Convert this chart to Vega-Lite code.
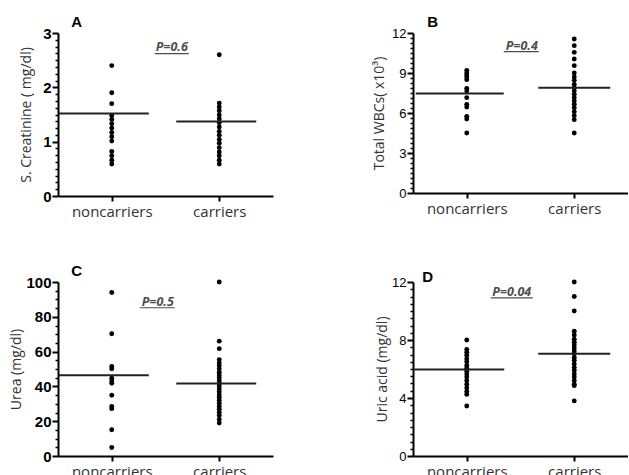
{
  "$schema": "https://vega.github.io/schema/vega-lite/v6.json",
  "background": "white",
  "padding": {"left": 9, "top": 15, "right": 0, "bottom": 0},
  "config": {"view": {"stroke": null}},
  "datasets": {
    "pts": [
      {"panel":"A","group":"noncarriers","value":2.4},{"panel":"A","group":"noncarriers","value":1.9},{"panel":"A","group":"noncarriers","value":1.7},{"panel":"A","group":"noncarriers","value":1.48},{"panel":"A","group":"noncarriers","value":1.41},{"panel":"A","group":"noncarriers","value":1.33},{"panel":"A","group":"noncarriers","value":1.25},{"panel":"A","group":"noncarriers","value":1.17},{"panel":"A","group":"noncarriers","value":1.09},{"panel":"A","group":"noncarriers","value":1.01},{"panel":"A","group":"noncarriers","value":0.82},{"panel":"A","group":"noncarriers","value":0.74},{"panel":"A","group":"noncarriers","value":0.66},{"panel":"A","group":"noncarriers","value":0.59},
      {"panel":"A","group":"carriers","value":2.6},{"panel":"A","group":"carriers","value":1.71},{"panel":"A","group":"carriers","value":1.64},{"panel":"A","group":"carriers","value":1.57},{"panel":"A","group":"carriers","value":1.49},{"panel":"A","group":"carriers","value":1.42},{"panel":"A","group":"carriers","value":1.35},{"panel":"A","group":"carriers","value":1.27},{"panel":"A","group":"carriers","value":1.19},{"panel":"A","group":"carriers","value":1.12},{"panel":"A","group":"carriers","value":1.04},{"panel":"A","group":"carriers","value":0.97},{"panel":"A","group":"carriers","value":0.89},{"panel":"A","group":"carriers","value":0.81},{"panel":"A","group":"carriers","value":0.74},{"panel":"A","group":"carriers","value":0.66},{"panel":"A","group":"carriers","value":0.59},
      {"panel":"B","group":"noncarriers","value":9.2},{"panel":"B","group":"noncarriers","value":9.0},{"panel":"B","group":"noncarriers","value":8.85},{"panel":"B","group":"noncarriers","value":8.7},{"panel":"B","group":"noncarriers","value":8.5},{"panel":"B","group":"noncarriers","value":7.85},{"panel":"B","group":"noncarriers","value":7.65},{"panel":"B","group":"noncarriers","value":7.15},{"panel":"B","group":"noncarriers","value":6.65},{"panel":"B","group":"noncarriers","value":6.45},{"panel":"B","group":"noncarriers","value":5.75},{"panel":"B","group":"noncarriers","value":5.55},{"panel":"B","group":"noncarriers","value":4.5},
      {"panel":"B","group":"carriers","value":11.55},{"panel":"B","group":"carriers","value":11.05},{"panel":"B","group":"carriers","value":10.55},{"panel":"B","group":"carriers","value":10.05},{"panel":"B","group":"carriers","value":9.55},{"panel":"B","group":"carriers","value":9.0},{"panel":"B","group":"carriers","value":8.7},{"panel":"B","group":"carriers","value":8.45},{"panel":"B","group":"carriers","value":8.15},{"panel":"B","group":"carriers","value":7.9},{"panel":"B","group":"carriers","value":7.65},{"panel":"B","group":"carriers","value":7.4},{"panel":"B","group":"carriers","value":7.15},{"panel":"B","group":"carriers","value":6.9},{"panel":"B","group":"carriers","value":6.65},{"panel":"B","group":"carriers","value":6.4},{"panel":"B","group":"carriers","value":6.1},{"panel":"B","group":"carriers","value":5.8},{"panel":"B","group":"carriers","value":5.5},{"panel":"B","group":"carriers","value":4.5},
      {"panel":"C","group":"noncarriers","value":94},{"panel":"C","group":"noncarriers","value":70.3},{"panel":"C","group":"noncarriers","value":51.5},{"panel":"C","group":"noncarriers","value":50.1},{"panel":"C","group":"noncarriers","value":44.7},{"panel":"C","group":"noncarriers","value":43.1},{"panel":"C","group":"noncarriers","value":41.8},{"panel":"C","group":"noncarriers","value":34.9},{"panel":"C","group":"noncarriers","value":28.5},{"panel":"C","group":"noncarriers","value":27.2},{"panel":"C","group":"noncarriers","value":15.1},{"panel":"C","group":"noncarriers","value":4.9},
      {"panel":"C","group":"carriers","value":100},{"panel":"C","group":"carriers","value":66},{"panel":"C","group":"carriers","value":61.7},{"panel":"C","group":"carriers","value":55.3},{"panel":"C","group":"carriers","value":53.4},{"panel":"C","group":"carriers","value":51.8},{"panel":"C","group":"carriers","value":50.1},{"panel":"C","group":"carriers","value":48.2},{"panel":"C","group":"carriers","value":46.6},{"panel":"C","group":"carriers","value":45.0},{"panel":"C","group":"carriers","value":43.3},{"panel":"C","group":"carriers","value":41.7},{"panel":"C","group":"carriers","value":40.2},{"panel":"C","group":"carriers","value":38.5},{"panel":"C","group":"carriers","value":36.9},{"panel":"C","group":"carriers","value":35.1},{"panel":"C","group":"carriers","value":33.6},{"panel":"C","group":"carriers","value":31.9},{"panel":"C","group":"carriers","value":30.2},{"panel":"C","group":"carriers","value":28.4},{"panel":"C","group":"carriers","value":26.9},{"panel":"C","group":"carriers","value":25.1},{"panel":"C","group":"carriers","value":23.3},{"panel":"C","group":"carriers","value":21.0},{"panel":"C","group":"carriers","value":18.9},
      {"panel":"D","group":"noncarriers","value":8.0},{"panel":"D","group":"noncarriers","value":7.35},{"panel":"D","group":"noncarriers","value":7.15},{"panel":"D","group":"noncarriers","value":6.95},{"panel":"D","group":"noncarriers","value":6.7},{"panel":"D","group":"noncarriers","value":6.5},{"panel":"D","group":"noncarriers","value":6.25},{"panel":"D","group":"noncarriers","value":6.05},{"panel":"D","group":"noncarriers","value":5.85},{"panel":"D","group":"noncarriers","value":5.65},{"panel":"D","group":"noncarriers","value":5.45},{"panel":"D","group":"noncarriers","value":5.2},{"panel":"D","group":"noncarriers","value":4.95},{"panel":"D","group":"noncarriers","value":4.7},{"panel":"D","group":"noncarriers","value":4.45},{"panel":"D","group":"noncarriers","value":4.25},{"panel":"D","group":"noncarriers","value":3.45},
      {"panel":"D","group":"carriers","value":12.0},{"panel":"D","group":"carriers","value":11.0},{"panel":"D","group":"carriers","value":10.0},{"panel":"D","group":"carriers","value":8.6},{"panel":"D","group":"carriers","value":8.35},{"panel":"D","group":"carriers","value":8.05},{"panel":"D","group":"carriers","value":7.85},{"panel":"D","group":"carriers","value":7.65},{"panel":"D","group":"carriers","value":7.45},{"panel":"D","group":"carriers","value":7.25},{"panel":"D","group":"carriers","value":7.05},{"panel":"D","group":"carriers","value":6.8},{"panel":"D","group":"carriers","value":6.6},{"panel":"D","group":"carriers","value":6.35},{"panel":"D","group":"carriers","value":6.1},{"panel":"D","group":"carriers","value":5.9},{"panel":"D","group":"carriers","value":5.65},{"panel":"D","group":"carriers","value":5.45},{"panel":"D","group":"carriers","value":5.2},{"panel":"D","group":"carriers","value":4.95},{"panel":"D","group":"carriers","value":4.85},{"panel":"D","group":"carriers","value":3.8}
    ],
    "means": [
      {"panel":"A","group":"noncarriers","value":1.52},{"panel":"A","group":"carriers","value":1.37},
      {"panel":"B","group":"noncarriers","value":7.47},{"panel":"B","group":"carriers","value":7.89},
      {"panel":"C","group":"noncarriers","value":46.4},{"panel":"C","group":"carriers","value":41.7},
      {"panel":"D","group":"noncarriers","value":5.97},{"panel":"D","group":"carriers","value":7.06}
    ]
  },
  "columns": 2,
  "bounds": "flush",
  "spacing": {"row": 86, "column": 140},
  "concat": [
    {
      "width": 215, "height": 163,
      "encoding": {
        "x": {"field": "group", "type": "nominal", "scale": {"type": "point", "domain": ["noncarriers", "carriers"], "padding": 0.5},
          "axis": {"title": null, "grid": false, "ticks": true, "labelAngle": 0, "labelFont": "Open Sans", "labelFontSize": 15, "labelColor": "#333", "labelPadding": 3, "domainColor": "#000", "domainWidth": 2, "tickColor": "#000", "tickSize": 5, "tickWidth": 2}},
        "y": {"field": "value", "type": "quantitative", "scale": {"domain": [0, 3], "nice": false},
          "axis": {"title": "S. Creatinine ( mg/dl)", "titleFont": "Open Sans", "titleFontSize": 14, "titleFontWeight": "normal", "titleColor": "#333", "titlePadding": 9,
            "grid": false, "ticks": true, "labelFont": "Liberation Sans", "labelFontSize": 15, "labelFontWeight": "bold", "labelColor": "#000", "labelPadding": 1, "labelOverlap": false, "labelFlush": false,
            "domainColor": "#000", "domainWidth": 2, "tickColor": "#000",
            "values": [0,0.125,0.25,0.375,0.5,0.625,0.75,0.875,1,1.125,1.25,1.375,1.5,1.625,1.75,1.875,2,2.125,2.25,2.375,2.5,2.625,2.75,2.875,3],
            "labelExpr": "datum.value % 1 === 0 ? format(datum.value, 'd') : ''",
            "tickSize": {"condition": {"test": "datum.value % 1 === 0", "value": 6}, "value": 3},
            "tickWidth": {"condition": {"test": "datum.value % 1 === 0", "value": 2}, "value": 1.5}}}
      },
      "layer": [
        {"data": {"name": "pts"}, "transform": [{"filter": "datum.panel === 'A'"}], "mark": {"type": "circle", "size": 24, "color": "#000", "opacity": 1}},
        {"data": {"name": "means"}, "transform": [{"filter": "datum.panel === 'A' && datum.group === 'noncarriers'"}], "mark": {"type": "tick", "orient": "horizontal", "size": 90, "thickness": 2, "color": "#222", "opacity": 1, "xOffset": -8}},
        {"data": {"name": "means"}, "transform": [{"filter": "datum.panel === 'A' && datum.group === 'carriers'"}], "mark": {"type": "tick", "orient": "horizontal", "size": 80, "thickness": 2, "color": "#222", "opacity": 1, "xOffset": -3}},
        {"data": {"values": [{"group": "noncarriers", "value": 3.11, "label": "A"}]}, "mark": {"type": "text", "font": "Liberation Sans", "fontSize": 15, "fontWeight": "bold", "color": "#000", "dx": -35, "baseline": "alphabetic", "align": "center"}, "encoding": {"text": {"field": "label"}}},
        {"data": {"values": [{"group": "noncarriers", "value": 2.67, "label": "P=0.6"}]}, "mark": {"type": "text", "font": "Open Sans", "fontSize": 12.5, "fontStyle": "italic", "fontWeight": "bold", "color": "#4d4d4d", "dx": 60, "baseline": "alphabetic", "align": "center"}, "encoding": {"text": {"field": "label"}}},
        {"data": {"values": [{"group": "noncarriers", "value": 2.62}]}, "mark": {"type": "rule", "color": "#4d4d4d", "strokeWidth": 1.2, "xOffset": 43, "x2Offset": 77}, "encoding": {"x2": {"field": "group"}}}
      ]
    },
    {
      "width": 215, "height": 160,
      "encoding": {
        "x": {"field": "group", "type": "nominal", "scale": {"type": "point", "domain": ["noncarriers", "carriers"], "padding": 0.5},
          "axis": {"title": null, "grid": false, "ticks": true, "labelAngle": 0, "labelFont": "Open Sans", "labelFontSize": 15, "labelColor": "#333", "labelPadding": 3, "domainColor": "#000", "domainWidth": 2, "tickColor": "#000", "tickSize": 5, "tickWidth": 2}},
        "y": {"field": "value", "type": "quantitative", "scale": {"domain": [0, 12], "nice": false},
          "axis": {"title": "Total WBCs( x10³)", "titleFont": "Open Sans", "titleFontSize": 14, "titleFontWeight": "normal", "titleColor": "#333", "titlePadding": 5,
            "grid": false, "ticks": true, "labelFont": "Liberation Sans", "labelFontSize": 13, "labelColor": "#000", "labelPadding": 1, "labelOverlap": false, "labelFlush": false,
            "domainColor": "#000", "domainWidth": 2, "tickColor": "#000",
            "values": [0,0.375,0.75,1.125,1.5,1.875,2.25,2.625,3,3.375,3.75,4.125,4.5,4.875,5.25,5.625,6,6.375,6.75,7.125,7.5,7.875,8.25,8.625,9,9.375,9.75,10.125,10.5,10.875,11.25,11.625,12],
            "labelExpr": "datum.value % 3 === 0 ? format(datum.value, 'd') : ''",
            "tickSize": {"condition": {"test": "datum.value % 3 === 0", "value": 6}, "value": 3},
            "tickWidth": {"condition": {"test": "datum.value % 3 === 0", "value": 2}, "value": 1.5}}}
      },
      "layer": [
        {"data": {"name": "pts"}, "transform": [{"filter": "datum.panel === 'B'"}], "mark": {"type": "circle", "size": 24, "color": "#000", "opacity": 1}},
        {"data": {"name": "means"}, "transform": [{"filter": "datum.panel === 'B' && datum.group === 'noncarriers'"}], "mark": {"type": "tick", "orient": "horizontal", "size": 88, "thickness": 2, "color": "#222", "opacity": 1, "xOffset": -7}},
        {"data": {"name": "means"}, "transform": [{"filter": "datum.panel === 'B' && datum.group === 'carriers'"}], "mark": {"type": "tick", "orient": "horizontal", "size": 72, "thickness": 2, "color": "#222", "opacity": 1, "xOffset": 0}},
        {"data": {"values": [{"group": "noncarriers", "value": 12.45, "label": "B"}]}, "mark": {"type": "text", "font": "Liberation Sans", "fontSize": 15, "fontWeight": "bold", "color": "#000", "dx": -34, "baseline": "alphabetic", "align": "center"}, "encoding": {"text": {"field": "label"}}},
        {"data": {"values": [{"group": "noncarriers", "value": 10.73, "label": "P=0.4"}]}, "mark": {"type": "text", "font": "Open Sans", "fontSize": 12.5, "fontStyle": "italic", "fontWeight": "bold", "color": "#4d4d4d", "dx": 55, "baseline": "alphabetic", "align": "center"}, "encoding": {"text": {"field": "label"}}},
        {"data": {"values": [{"group": "noncarriers", "value": 10.6}]}, "mark": {"type": "rule", "color": "#4d4d4d", "strokeWidth": 1.2, "xOffset": 37, "x2Offset": 72}, "encoding": {"x2": {"field": "group"}}}
      ]
    },
    {
      "width": 215, "height": 174,
      "encoding": {
        "x": {"field": "group", "type": "nominal", "scale": {"type": "point", "domain": ["noncarriers", "carriers"], "padding": 0.5},
          "axis": {"title": null, "grid": false, "ticks": true, "labelAngle": 0, "labelFont": "Open Sans", "labelFontSize": 15, "labelColor": "#333", "labelPadding": 3, "domainColor": "#000", "domainWidth": 2, "tickColor": "#000", "tickSize": 5, "tickWidth": 2}},
        "y": {"field": "value", "type": "quantitative", "scale": {"domain": [0, 100], "nice": false},
          "axis": {"title": "Urea (mg/dl)", "titleFont": "Open Sans", "titleFontSize": 14, "titleFontWeight": "normal", "titleColor": "#333", "titlePadding": 2,
            "grid": false, "ticks": true, "labelFont": "Liberation Sans", "labelFontSize": 15, "labelFontWeight": "bold", "labelColor": "#000", "labelPadding": 1, "labelOverlap": false, "labelFlush": false,
            "domainColor": "#000", "domainWidth": 2, "tickColor": "#000",
            "values": [0,5,10,15,20,25,30,35,40,45,50,55,60,65,70,75,80,85,90,95,100],
            "labelExpr": "datum.value % 20 === 0 ? format(datum.value, 'd') : ''",
            "tickSize": {"condition": {"test": "datum.value % 20 === 0", "value": 6}, "value": 3},
            "tickWidth": {"condition": {"test": "datum.value % 20 === 0", "value": 2}, "value": 1.5}}}
      },
      "layer": [
        {"data": {"name": "pts"}, "transform": [{"filter": "datum.panel === 'C'"}], "mark": {"type": "circle", "size": 24, "color": "#000", "opacity": 1}},
        {"data": {"name": "means"}, "transform": [{"filter": "datum.panel === 'C' && datum.group === 'noncarriers'"}], "mark": {"type": "tick", "orient": "horizontal", "size": 90, "thickness": 2, "color": "#222", "opacity": 1, "xOffset": -8}},
        {"data": {"name": "means"}, "transform": [{"filter": "datum.panel === 'C' && datum.group === 'carriers'"}], "mark": {"type": "tick", "orient": "horizontal", "size": 80, "thickness": 2, "color": "#222", "opacity": 1, "xOffset": -3}},
        {"data": {"values": [{"group": "noncarriers", "value": 103.4, "label": "C"}]}, "mark": {"type": "text", "font": "Liberation Sans", "fontSize": 15, "fontWeight": "bold", "color": "#000", "dx": -35, "baseline": "alphabetic", "align": "center"}, "encoding": {"text": {"field": "label"}}},
        {"data": {"values": [{"group": "noncarriers", "value": 86.2, "label": "P=0.5"}]}, "mark": {"type": "text", "font": "Open Sans", "fontSize": 12.5, "fontStyle": "italic", "fontWeight": "bold", "color": "#4d4d4d", "dx": 46, "baseline": "alphabetic", "align": "center"}, "encoding": {"text": {"field": "label"}}},
        {"data": {"values": [{"group": "noncarriers", "value": 85.2}]}, "mark": {"type": "rule", "color": "#4d4d4d", "strokeWidth": 1.2, "xOffset": 28, "x2Offset": 63}, "encoding": {"x2": {"field": "group"}}}
      ]
    },
    {
      "width": 215, "height": 174,
      "encoding": {
        "x": {"field": "group", "type": "nominal", "scale": {"type": "point", "domain": ["noncarriers", "carriers"], "padding": 0.5},
          "axis": {"title": null, "grid": false, "ticks": true, "labelAngle": 0, "labelFont": "Open Sans", "labelFontSize": 15, "labelColor": "#333", "labelPadding": 3, "domainColor": "#000", "domainWidth": 2, "tickColor": "#000", "tickSize": 5, "tickWidth": 2}},
        "y": {"field": "value", "type": "quantitative", "scale": {"domain": [0, 12], "nice": false},
          "axis": {"title": "Uric acid (mg/dl)", "titleFont": "Open Sans", "titleFontSize": 14, "titleFontWeight": "normal", "titleColor": "#333", "titlePadding": 2,
            "grid": false, "ticks": true, "labelFont": "Liberation Sans", "labelFontSize": 13, "labelColor": "#000", "labelPadding": 1, "labelOverlap": false, "labelFlush": false,
            "domainColor": "#000", "domainWidth": 2, "tickColor": "#000",
            "values": [0,0.5,1,1.5,2,2.5,3,3.5,4,4.5,5,5.5,6,6.5,7,7.5,8,8.5,9,9.5,10,10.5,11,11.5,12],
            "labelExpr": "datum.value % 4 === 0 ? format(datum.value, 'd') : ''",
            "tickSize": {"condition": {"test": "datum.value % 4 === 0", "value": 6}, "value": 3},
            "tickWidth": {"condition": {"test": "datum.value % 4 === 0", "value": 2}, "value": 1.5}}}
      },
      "layer": [
        {"data": {"name": "pts"}, "transform": [{"filter": "datum.panel === 'D'"}], "mark": {"type": "circle", "size": 24, "color": "#000", "opacity": 1}},
        {"data": {"name": "means"}, "transform": [{"filter": "datum.panel === 'D' && datum.group === 'noncarriers'"}], "mark": {"type": "tick", "orient": "horizontal", "size": 91, "thickness": 2, "color": "#222", "opacity": 1, "xOffset": -8}},
        {"data": {"name": "means"}, "transform": [{"filter": "datum.panel === 'D' && datum.group === 'carriers'"}], "mark": {"type": "tick", "orient": "horizontal", "size": 72, "thickness": 2, "color": "#222", "opacity": 1, "xOffset": 0}},
        {"data": {"values": [{"group": "noncarriers", "value": 11.98, "label": "D"}]}, "mark": {"type": "text", "font": "Liberation Sans", "fontSize": 15, "fontWeight": "bold", "color": "#000", "dx": -39, "baseline": "alphabetic", "align": "center"}, "encoding": {"text": {"field": "label"}}},
        {"data": {"values": [{"group": "noncarriers", "value": 11.06, "label": "P=0.04"}]}, "mark": {"type": "text", "font": "Open Sans", "fontSize": 12.5, "fontStyle": "italic", "fontWeight": "bold", "color": "#4d4d4d", "dx": 45, "baseline": "alphabetic", "align": "center"}, "encoding": {"text": {"field": "label"}}},
        {"data": {"values": [{"group": "noncarriers", "value": 10.9}]}, "mark": {"type": "rule", "color": "#4d4d4d", "strokeWidth": 1.2, "xOffset": 24, "x2Offset": 66}, "encoding": {"x2": {"field": "group"}}}
      ]
    }
  ]
}
